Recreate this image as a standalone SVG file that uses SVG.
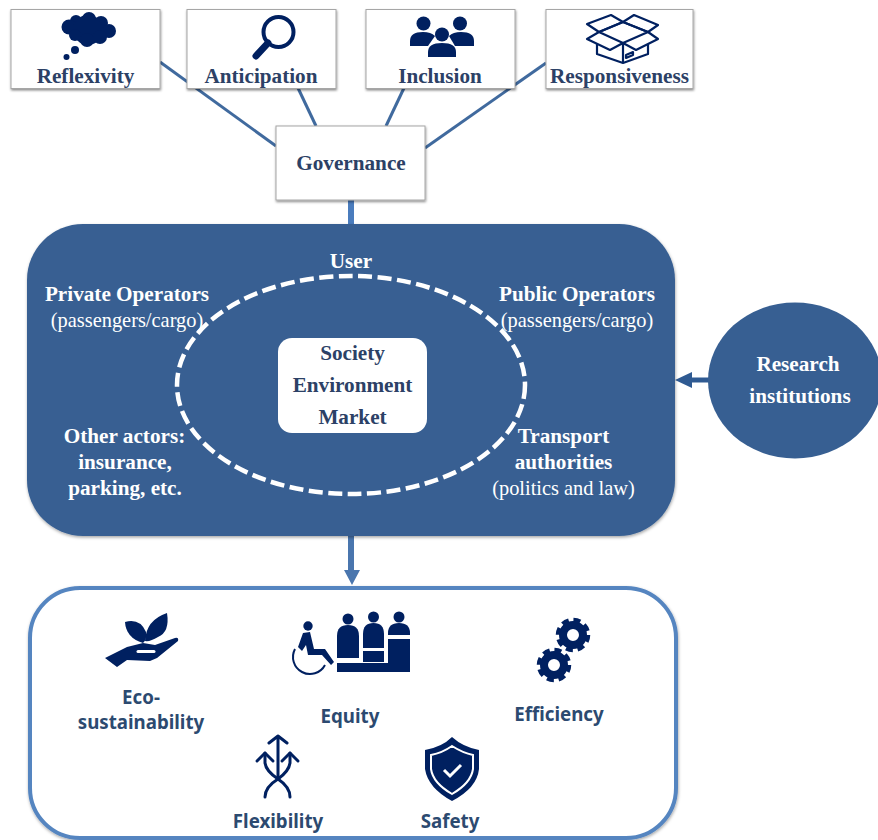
<svg xmlns="http://www.w3.org/2000/svg" width="878" height="840" viewBox="0 0 878 840">
<defs>
<filter id="sh" x="-5%" y="-5%" width="110%" height="115%"><feDropShadow dx="0.5" dy="1.5" stdDeviation="1.2" flood-color="#000" flood-opacity="0.45"/></filter>
<filter id="sh2" x="-5%" y="-5%" width="110%" height="110%"><feDropShadow dx="0.5" dy="1.5" stdDeviation="1.5" flood-color="#000" flood-opacity="0.35"/></filter>
</defs>
<style>
.box{fill:#fff;stroke:#a6a6a6;stroke-width:1;filter:url(#sh)}
.t{font-family:"Liberation Serif",serif;font-weight:bold;font-size:21.2px;text-anchor:middle}
.d{fill:#2c4166}
.w{fill:#fff}
.n{font-weight:normal;font-size:20.400px}
.s{font-family:"Noto Sans","Open Sans",sans-serif;font-weight:bold;font-size:18.700px;text-anchor:middle;fill:#2c4a70}
.i{fill:#002060}
.il{fill:none;stroke:#002060}
.c{fill:none;stroke:#406a9e;stroke-width:3}
.g{fill:none;stroke:#002060}
</style>
<g id="connectors">
<path class="c" d="M160,62L276,146"/>
<path class="c" d="M298,88L316,126"/>
<path class="c" d="M404,88L386,126"/>
<path class="c" d="M546,63L425,148"/>
<path d="M351,200V226" fill="none" stroke="#4a7cbd" stroke-width="6"/>
<path d="M351,534V572" fill="none" stroke="#4a76ae" stroke-width="6"/>
<path d="M344,570H360L352,585Z" fill="#4a76ae"/>
<path d="M710,380H690" fill="none" stroke="#2f5a92" stroke-width="5"/>
<path d="M692,372V388L675,380Z" fill="#2f5a92"/>
</g>
<g id="reflexivity">
<rect class="box" x="11" y="9.500" width="149" height="79"/>
<g class="i"><circle cx="76" cy="21" r="6"/><circle cx="89" cy="19" r="7"/><circle cx="101" cy="23" r="7"/><circle cx="69" cy="27" r="7.500"/><circle cx="109" cy="31" r="7"/><circle cx="88" cy="30" r="15"/><circle cx="87" cy="40" r="7"/><circle cx="100" cy="37" r="7"/><circle cx="75" cy="35" r="6"/><circle cx="75" cy="50" r="4"/><circle cx="66.500" cy="57" r="3"/></g>
<text class="t d" x="85.500" y="83">Reflexivity</text>
</g>
<g id="anticipation">
<rect class="box" x="187" y="9.500" width="149" height="79"/>
<circle class="il" cx="278.500" cy="32" r="15" stroke-width="4"/>
<path d="M268,43L256,56" stroke="#002060" stroke-width="7" stroke-linecap="round" fill="none"/>
<text class="t d" x="261" y="83">Anticipation</text>
</g>
<g id="inclusion">
<rect class="box" x="366" y="9.500" width="149" height="79"/>
<g class="i"><circle cx="423.500" cy="23.500" r="7"/><path d="M410,46V41Q410,32 423,32Q431,32 435,36L428,46Z"/><circle cx="460" cy="23.500" r="7"/><path d="M474,46V41Q474,32 461,32Q453,32 449,36L455,46Z"/><circle cx="442" cy="34.500" r="7"/><path d="M428,57V52Q428,43 442,43Q456,43 456,52V57Z"/></g>
<text class="t d" x="440" y="83">Inclusion</text>
</g>
<g id="responsiveness">
<rect class="box" x="546" y="9.500" width="147" height="79"/>
<g class="il" stroke-width="2.200" stroke-linejoin="round"><path d="M587,24L611,15L623,22L599,32Z"/><path d="M623,22L634,15L658,25L648,32Z"/><path d="M599,32L623,22L648,32L623,43Z"/><path d="M599,32L587,39L610,50L623,43L636,50L658,39L648,32"/><path d="M597,44V54L623,63L648,54V44"/><path d="M623,43V63"/><path d="M626,58L633,55V52L626,55Z"/></g>
<text class="t d" x="619.500" y="83">Responsiveness</text>
</g>
<g id="governance">
<rect class="box" x="276" y="126" width="149" height="74"/>
<text class="t d" x="351" y="170">Governance</text>
</g>
<g id="actors">
<rect x="27" y="224" width="648" height="312" rx="56" fill="#375f92" filter="url(#sh2)"/>
<ellipse cx="351" cy="385" rx="174" ry="109" fill="none" stroke="#fff" stroke-width="4.500" stroke-dasharray="14 5.500"/>
<text class="t w" x="351" y="268">User</text>
<text class="t w" x="127" y="300.500">Private Operators</text>
<text class="t w n" x="127" y="326.500">(passengers/cargo)</text>
<text class="t w" x="577" y="300.500">Public Operators</text>
<text class="t w n" x="577" y="326.500">(passengers/cargo)</text>
<text class="t w" x="124.500" y="443">Other actors:</text>
<text class="t w" x="125" y="468.500">insurance,</text>
<text class="t w" x="125" y="494.500">parking, etc.</text>
<text class="t w" x="563.500" y="443">Transport</text>
<text class="t w" x="563.500" y="469">authorities</text>
<text class="t w n" x="563.500" y="494.500">(politics and law)</text>
</g>
<g id="core">
<rect x="278" y="338" width="149" height="95" rx="14" fill="#fff"/>
<text class="t d" x="352.500" y="359.500">Society</text>
<text class="t d" x="352.500" y="391.500">Environment</text>
<text class="t d" x="352.500" y="424">Market</text>
</g>
<g id="research">
<ellipse cx="795" cy="380.500" rx="87" ry="78" fill="#375f92"/>
<text class="t w" x="798" y="371">Research</text>
<text class="t w" x="800" y="402.500">institutions</text>
</g>
<g id="outcomes">
<rect x="30" y="588" width="646" height="250" rx="50" fill="#fff" stroke="#5585c0" stroke-width="4" filter="url(#sh2)"/>
</g>
<g id="eco">
<g class="i"><path d="M105,658L127,647L143,643L155,645L175,638Q179,637 178,641L157,658L150,661L127,660L117,667Z"/><path d="M125,622Q140,618 146,632Q147,640 143,643Q126,638 125,622Z"/><path d="M167,613Q170,632 158,637Q150,642 145,641Q146,620 167,613Z"/></g>
<path d="M138,651.500H154" stroke="#fff" stroke-width="3" stroke-linecap="round"/>
<text class="s" x="141" y="704">Eco-</text>
<text class="s" x="141" y="729">sustainability</text>
</g>
<g id="equity">
<g class="i"><circle cx="308" cy="626" r="4.700"/><path d="M303,633L310,632L314,649H325L334,662L331,665L322,655H308L306,645L302,651L298,647Z"/></g>
<path d="M295,649A13,13 0 0 0 325,665" fill="none" stroke="#002060" stroke-width="2"/>
<g class="i"><circle cx="348" cy="619" r="5.500"/><circle cx="373.500" cy="617" r="5.500"/><circle cx="399" cy="617" r="5.500"/><path d="M337,658V636Q337,625 348,625Q359,625 359,636V658Z"/><path d="M363,648V634Q363,623 373.500,623Q384,623 384,634V648Z"/><path d="M363,651H384V662H363Z"/><path d="M388,633Q388,623 399,623Q410,623 410,633V635H388Z"/><path d="M388,639H410V672H388Z"/><path d="M337,663H388V672H337Z"/></g>
<text class="s" x="350" y="723">Equity</text>
</g>
<g id="efficiency">
<circle class="g" cx="573" cy="635" r="10" stroke-width="8"/><circle class="g" cx="573" cy="635" r="15" stroke-width="4.500" stroke-dasharray="7 4.780"/>
<circle class="g" cx="554" cy="665" r="10" stroke-width="8"/><circle class="g" cx="554" cy="665" r="15" stroke-width="4.500" stroke-dasharray="7 4.780"/>
<text class="s" x="559" y="721">Efficiency</text>
</g>
<g id="flexibility">
<g class="il" stroke-width="3" stroke-linecap="round" stroke-linejoin="round"><path d="M278,777V737M269,743L278,736L287,743"/><path d="M257,761L265,753L273,761"/><path d="M298,761L290,753L282,761"/><path d="M265,753V763Q266,771 278,779Q290,787 290,797"/><path d="M290,753V763Q289,771 278,779Q265,787 265,797"/></g>
<text class="s" x="278" y="828">Flexibility</text>
</g>
<g id="safety">
<path class="i" d="M452,737Q463,747 479,750V769Q477,788 452,801Q428,788 425,769V750Q442,747 452,737Z"/>
<path d="M452,746Q463,753 473,755V769Q471,783 452,794Q433,783 431,769V755Q442,753 452,746Z" fill="none" stroke="#fff" stroke-width="2"/>
<path d="M444,770L450,776L461,765" fill="none" stroke="#fff" stroke-width="3"/>
<text class="s" x="450" y="828">Safety</text>
</g>
</svg>
